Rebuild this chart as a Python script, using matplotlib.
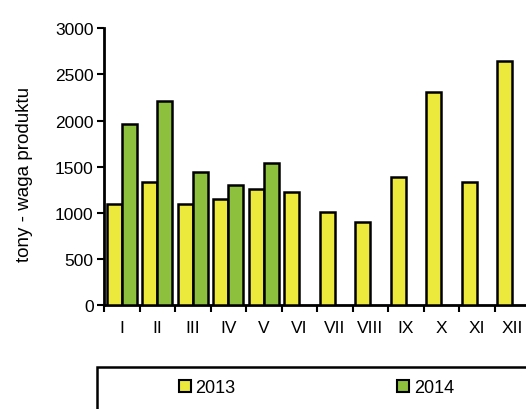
import numpy as np
import matplotlib.pyplot as plt
from matplotlib.patches import Rectangle

# Miesiące i wartości (tony)
months = ['I', 'II', 'III', 'IV', 'V', 'VI', 'VII', 'VIII', 'IX', 'X', 'XI', 'XII']
y2013 = [1090, 1330, 1090, 1150, 1255, 1230, 1005, 895, 1390, 2305, 1335, 2650]
y2014 = [1960, 2215, 1445, 1300, 1540]

yellow = '#ece93c'
green = '#8dc03c'

plt.rcParams['font.family'] = 'Liberation Sans'

fig = plt.figure(figsize=(5.26, 4.10), dpi=100)
ax = fig.add_axes([104 / 526, 104 / 410, 426 / 526, 276.67 / 410])

x = np.arange(len(months))
w = 0.42
ax.bar(x - w / 2, y2013, width=w, color=yellow, edgecolor='black', linewidth=1.8, zorder=3)
ax.bar(x[:len(y2014)] + w / 2, y2014, width=w, color=green, edgecolor='black', linewidth=1.8, zorder=3)

ax.set_xlim(-0.5, len(months) - 0.5)
ax.set_ylim(0, 3000)
ax.set_yticks(np.arange(0, 3001, 500))
ax.set_xticks(x)
ax.set_xticklabels(months)
ax.set_xticks(np.arange(-0.5, len(months)), minor=True)
ax.tick_params(axis='x', which='major', length=0, pad=11, labelsize=12.5)
ax.tick_params(axis='x', which='minor', length=5, width=1.5, direction='out')
ax.tick_params(axis='y', length=5, width=1.5, direction='out', pad=2.5, labelsize=12.5)

for side in ['top', 'right']:
    ax.spines[side].set_visible(False)
for side in ['left', 'bottom']:
    ax.spines[side].set_linewidth(2)

ax.set_ylabel('tony - waga produktu', fontsize=13.5)
ax.yaxis.set_label_coords(-0.167, 0.477)

# Ramka legendy
fig.add_artist(Rectangle((97 / 526, -0.2), 1.0, 0.2 + 42 / 410,
                         transform=fig.transFigure, fill=False,
                         edgecolor='black', linewidth=1.8))
handles = [Rectangle((0, 0), 1, 1, facecolor=yellow, edgecolor='black', linewidth=1.5),
           Rectangle((0, 0), 1, 1, facecolor=green, edgecolor='black', linewidth=1.5)]
fig.legend(handles, ['2013', '2014'], loc='center', ncol=2,
           bbox_to_anchor=(0.6017, 21 / 410), frameon=False, fontsize=13,
           handlelength=0.66, handleheight=0.66, handletextpad=0.28,
           columnspacing=8.95)

fig.savefig('out.png', dpi=100)
